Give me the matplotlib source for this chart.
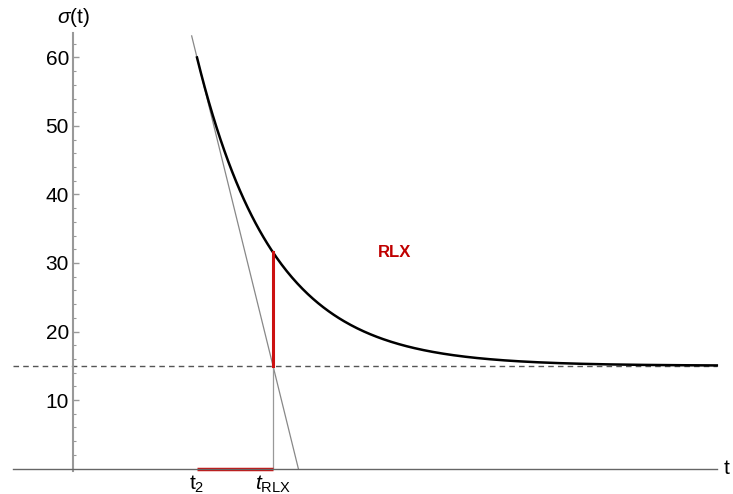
import numpy as np
import matplotlib
matplotlib.use("Agg")
import matplotlib.pyplot as plt
from matplotlib.ticker import FixedLocator

plt.rcParams['font.family'] = ['Liberation Sans', 'DejaVu Sans']
plt.rcParams['mathtext.fontset'] = 'custom'
plt.rcParams['mathtext.rm'] = 'Liberation Sans'
plt.rcParams['mathtext.it'] = 'Liberation Sans:italic'

# relaxation parameters
t2 = 0.0
tau = 1.0
sigma_start = 60.0
sigma_inf = 15.0
t_end = 6.84

y_ticks = [10, 20, 30, 40, 50, 60]
y_minor = [2, 4, 6, 8, 12, 14, 16, 18, 22, 24, 26, 28, 32, 34, 36, 38,
           42, 44, 46, 48, 52, 54, 56, 58, 62]

# curve and tangent
t = np.linspace(t2, t_end, 400)
sigma = sigma_inf + (sigma_start - sigma_inf) * np.exp(-(t - t2) / tau)
t_rlx = t2 + tau
sigma_rlx = sigma_inf + (sigma_start - sigma_inf) * np.exp(-1)
slope = -(sigma_start - sigma_inf) / tau
t_tan = np.array([-0.07, t2 - sigma_start / slope])
sigma_tan = sigma_start + slope * (t_tan - t2)

fig = plt.figure(figsize=(7.33, 4.94), dpi=100)
ax = fig.add_axes([0, 0, 1, 1])
ax.set_xlim(-2.592, 7.053)
ax.set_ylim(-3.72, 68.39)

# axes in Mathematica style
for s in ['top', 'right']:
    ax.spines[s].set_visible(False)
ax.spines['left'].set_position(('data', -1.63))
ax.spines['left'].set_bounds(-0.3, 63.5)
ax.spines['left'].set_color('#999999')
ax.spines['left'].set_linewidth(1.5)
ax.spines['bottom'].set_position(('data', 0))
ax.spines['bottom'].set_bounds(-2.42, 6.84)
ax.spines['bottom'].set_color('#666666')
ax.spines['bottom'].set_linewidth(1.0)
ax.set_xticks([])
ax.yaxis.set_major_locator(FixedLocator(y_ticks))
ax.yaxis.set_minor_locator(FixedLocator(y_minor))
ax.tick_params(axis='y', which='major', direction='in', length=4, width=1,
               color='#999999', labelsize=15, pad=3)
ax.tick_params(axis='y', which='minor', direction='in', length=2.5, width=0.8,
               color='#999999')

# asymptote
ax.plot([-2.42, 6.84], [sigma_inf, sigma_inf], color='#555555', lw=1,
        dashes=(4, 3))
# tangent line
ax.plot(t_tan, sigma_tan, color='#888888', lw=0.9)
# thin vertical line at t_RLX
ax.plot([t_rlx, t_rlx], [0, sigma_inf], color='#999999', lw=0.9)
# relaxation curve
ax.plot(t, sigma, color='black', lw=1.8)
# red markers
ax.plot([t_rlx, t_rlx], [sigma_inf, sigma_rlx], color='#cc1111', lw=2.2)
ax.plot([t2, t_rlx], [0, 0], color='#cc1111', lw=2.5, solid_capstyle='butt')

ax.text(2.6, 31.5, 'RLX', color='#c00000', fontsize=12, fontweight='bold',
        ha='center', va='center')
ax.text(t2, -2.3, r'$\mathrm{t}_2$', fontsize=15, ha='center', va='center')
ax.text(t_rlx, -2.3, r'$t_{\mathrm{RLX}}$', fontsize=15, ha='center',
        va='center')
ax.text(-1.63, 65.9, r'$\sigma$(t)', fontsize=15, ha='center', va='center')
ax.text(6.93, 0.0, 't', fontsize=15, ha='left', va='center')

fig.savefig("out.png", dpi=100)
